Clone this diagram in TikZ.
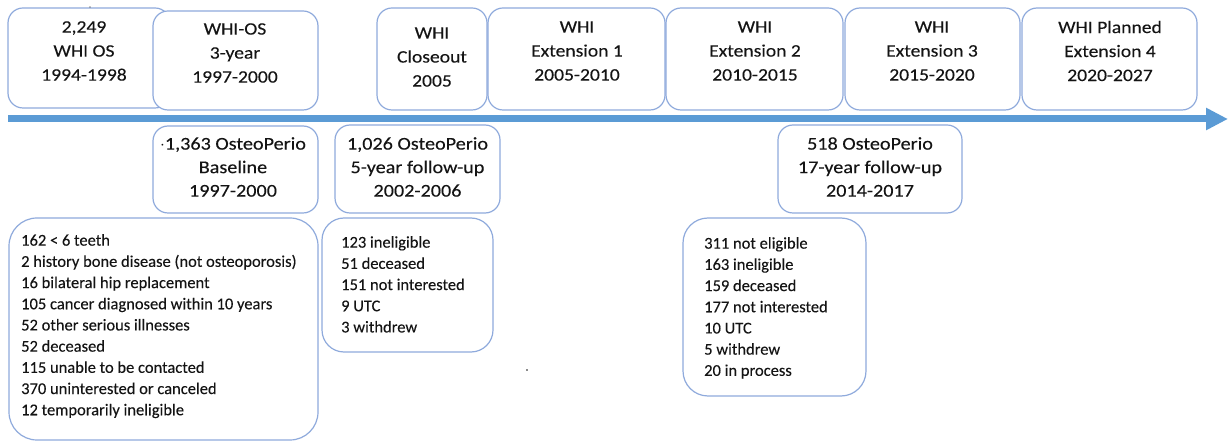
\documentclass[tikz,border=0pt]{standalone}
\usepackage{fontspec}
\setmainfont{Carlito}[FakeBold=0.12]
\newfontfamily\widefont{Carlito}[FakeStretch=1.12,FakeBold=0.12]
\usetikzlibrary{arrows.meta,calc}
\definecolor{boxblue}{RGB}{143,170,220}
\definecolor{arrowblue}{RGB}{91,155,213}
\definecolor{txt}{RGB}{20,20,20}
\begin{document}
\begin{tikzpicture}[x=1pt,y=-1pt,
  bx/.style={draw=boxblue, line width=1.2pt, fill=white, rounded corners=#1, inner sep=0pt},
  bx/.default=15pt,
  toptext/.style={text=txt, align=center, inner sep=0pt, font=\widefont\fontsize{17.5}{24}\selectfont},
  headtext/.style={text=txt, align=center, inner sep=0pt, font=\widefont\fontsize{18}{23.5}\selectfont},
  listtext/.style={text=txt, align=left, anchor=north west, inner sep=0pt, font=\fontsize{16.5}{21.2}\selectfont},
  timeline/.style={arrowblue, line width=7pt, -{Triangle[length=22pt,width=21pt]}}
]
\useasboundingbox (0,0) rectangle (1232,443);

% top row
\node[bx, minimum width=162pt, minimum height=100pt] (b1) at (89,58) {};
\node[toptext] (b1t) at (84,51) {2,249\\WHI OS\\1994-1998};
\node[bx, minimum width=165pt, minimum height=99pt] (b2) at (235.5,60.5) {};
\node[toptext] (b2t) at (235,53) {WHI-OS\\3-year\\1997-2000};
\node[bx, minimum width=110pt, minimum height=102pt] (b3) at (432,59) {};
\node[toptext] (b3t) at (432,57) {WHI\\Closeout\\2005};
\node[bx, minimum width=177pt, minimum height=102pt] (b4) at (576.5,59) {};
\node[toptext] (b4t) at (577,51) {WHI\\Extension 1\\2005-2010};
\node[bx, minimum width=177pt, minimum height=102pt] (b5) at (754.5,59) {};
\node[toptext] (b5t) at (755,51) {WHI\\Extension 2\\2010-2015};
\node[bx, minimum width=175pt, minimum height=102pt] (b6) at (932.5,59) {};
\node[toptext] (b6t) at (932,51) {WHI\\Extension 3\\2015-2020};
\node[bx, minimum width=175pt, minimum height=102pt] (b7) at (1109.5,59) {};
\node[toptext] (b7t) at (1110,51) {WHI Planned\\Extension 4\\2020-2027};

% timeline arrow
\coordinate (a0) at (8,119);
\coordinate (a1) at (1228,119);
\draw[timeline] (a0) -- (a1);

% OsteoPerio headers
\node[bx, minimum width=165pt, minimum height=87pt] (h1) at (235.5,169.5) {};
\node[headtext] (h1t) at (233,167) {$\cdot$1,363 OsteoPerio\\Baseline\\1997-2000};
\node[bx, minimum width=165pt, minimum height=88pt] (h2) at (417.5,169) {};
\node[headtext] (h2t) at (417.5,167) {1,026 OsteoPerio\\5-year follow-up\\2002-2006};
\node[bx, minimum width=184pt, minimum height=88pt] (h3) at (870,169) {};
\node[headtext] (h3t) at (870,167) {518 OsteoPerio\\17-year follow-up\\2014-2017};

% exclusion lists
\node[bx=28pt, minimum width=309pt, minimum height=222pt] (l1) at (163.5,329) {};
\node[listtext] (l1t) at (21,234) {162 < 6 teeth\\2 history bone disease (not osteoporosis)\\16 bilateral hip replacement\\105 cancer diagnosed within 10 years\\52 other serious illnesses\\52 deceased\\115 unable to be contacted\\370 uninterested or canceled\\12 temporarily ineligible};
\node[bx=22pt, minimum width=171pt, minimum height=134pt] (l2) at (407.5,285) {};
\node[listtext] (l2t) at (341,236) {123 ineligible\\51 deceased\\151 not interested\\9 UTC\\3 withdrew};
\node[bx=25pt, minimum width=183pt, minimum height=178pt] (l3) at (774.5,307) {};
\node[listtext] (l3t) at (704,237) {311 not eligible\\163 ineligible\\159 deceased\\177 not interested\\10 UTC\\5 withdrew\\20 in process};

% stray specks
\fill[txt] (527,370) circle (0.8pt);
\fill[txt] (90,7) circle (0.7pt);
\end{tikzpicture}
\end{document}
